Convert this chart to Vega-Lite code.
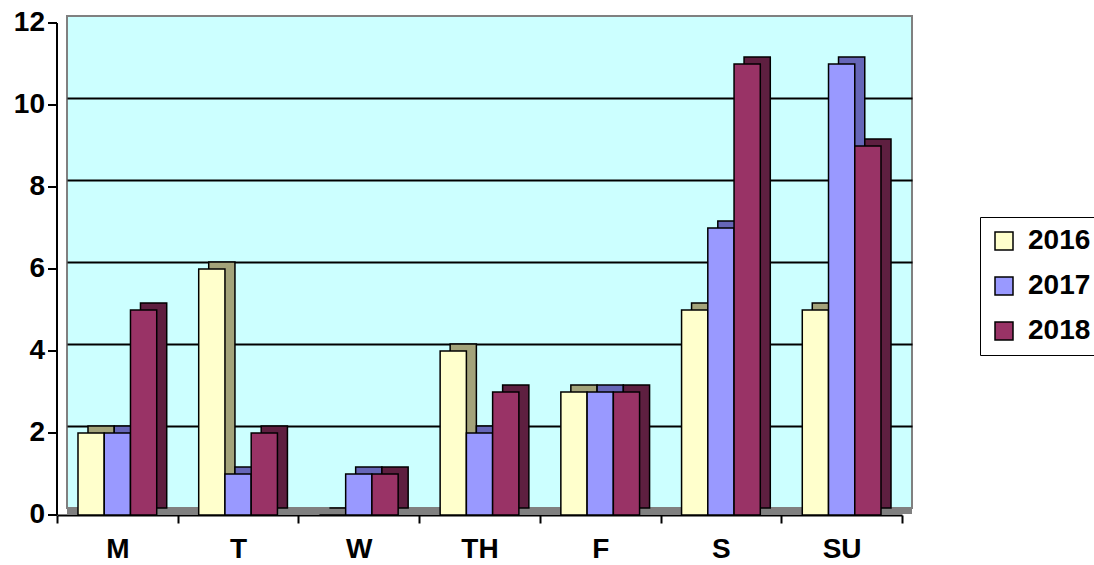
{
  "$schema": "https://vega.github.io/schema/vega-lite/v6.json",
  "width": 845,
  "height": 492,
  "autosize": "none",
  "padding": {"left": 67, "top": 16, "right": 182, "bottom": 57},
  "background": "white",
  "config": {
    "view": {"fill": "#CCFFFF", "stroke": "#808080", "strokeWidth": 2},
    "font": "Liberation Sans"
  },
  "data": {
    "values": [
      {"day": "M", "year": "2016", "value": 2},
      {"day": "M", "year": "2017", "value": 2},
      {"day": "M", "year": "2018", "value": 5},
      {"day": "T", "year": "2016", "value": 6},
      {"day": "T", "year": "2017", "value": 1},
      {"day": "T", "year": "2018", "value": 2},
      {"day": "W", "year": "2016", "value": 0},
      {"day": "W", "year": "2017", "value": 1},
      {"day": "W", "year": "2018", "value": 1},
      {"day": "TH", "year": "2016", "value": 4},
      {"day": "TH", "year": "2017", "value": 2},
      {"day": "TH", "year": "2018", "value": 3},
      {"day": "F", "year": "2016", "value": 3},
      {"day": "F", "year": "2017", "value": 3},
      {"day": "F", "year": "2018", "value": 3},
      {"day": "S", "year": "2016", "value": 5},
      {"day": "S", "year": "2017", "value": 7},
      {"day": "S", "year": "2018", "value": 11},
      {"day": "SU", "year": "2016", "value": 5},
      {"day": "SU", "year": "2017", "value": 11},
      {"day": "SU", "year": "2018", "value": 9}
    ]
  },
  "resolve": {
    "axis": {"y": "independent"},
    "scale": {"x": "independent", "xOffset": "independent"}
  },
  "layer": [
    {
      "mark": {"type": "rule", "color": "#808080", "strokeWidth": 6, "yOffset": 3},
      "encoding": {
        "y": {
          "datum": 0,
          "type": "quantitative",
          "scale": {"domain": [0, 12], "nice": false, "zero": true},
          "axis": {
            "orient": "left",
            "values": [2, 4, 6, 8, 10],
            "grid": true,
            "gridColor": "black",
            "gridWidth": 2,
            "gridOpacity": 1,
            "labels": false,
            "ticks": false,
            "domain": false,
            "title": null
          }
        }
      }
    },
    {
      "mark": {"type": "bar", "stroke": "black", "strokeWidth": 1.5},
      "encoding": {
        "x": {
          "field": "day",
          "type": "nominal",
          "sort": ["M", "T", "W", "TH", "F", "S", "SU"],
          "scale": {"paddingInner": 0, "paddingOuter": 0, "range": [0, 845]},
          "axis": null
        },
        "xOffset": {"field": "year", "type": "nominal", "scale": {"paddingInner": 0, "paddingOuter": 0.8}},
        "y": {"field": "value", "type": "quantitative", "scale": {"domain": [0, 12], "nice": false}, "axis": null},
        "fill": {
          "field": "year",
          "type": "nominal",
          "scale": {"range": ["#A3A37A", "#6666B8", "#5E1F40"]},
          "legend": null
        }
      }
    },
    {
      "mark": {"type": "bar", "stroke": "black", "strokeWidth": 1.5, "yOffset": 7, "fillOpacity": 1},
      "encoding": {
        "x": {
          "field": "day",
          "type": "nominal",
          "sort": ["M", "T", "W", "TH", "F", "S", "SU"],
          "scale": {"paddingInner": 0, "paddingOuter": 0, "range": [-10, 835]},
          "axis": {
            "orient": "bottom",
            "title": null,
            "labelAngle": 0,
            "labelFont": "Liberation Sans",
            "labelFontWeight": "bold",
            "labelFontSize": 28,
            "labelColor": "black",
            "labelPadding": 12,
            "tickBand": "extent",
            "tickColor": "black",
            "tickSize": 8,
            "tickWidth": 2,
            "domainColor": "black",
            "domainWidth": 2,
            "offset": 7
          }
        },
        "xOffset": {"field": "year", "type": "nominal", "scale": {"paddingInner": 0, "paddingOuter": 0.8}},
        "y": {
          "field": "value",
          "type": "quantitative",
          "scale": {"domain": [0, 12], "nice": false},
          "axis": {
            "orient": "left",
            "values": [0, 2, 4, 6, 8, 10, 12],
            "grid": false,
            "title": null,
            "labelFont": "Liberation Sans",
            "labelFontWeight": "bold",
            "labelFontSize": 28,
            "labelColor": "black",
            "labelPadding": 3,
            "tickColor": "black",
            "tickSize": 9,
            "tickWidth": 2,
            "domainColor": "black",
            "domainWidth": 2,
            "offset": 17,
            "translate": 7
          }
        },
        "color": {
          "field": "year",
          "type": "nominal",
          "scale": {"range": ["#FFFFCC", "#9999FF", "#993366"]},
          "legend": {
            "title": null,
            "orient": "none",
            "legendX": 913,
            "legendY": 201,
            "padding": 10,
            "strokeColor": "black",
            "fillColor": "white",
            "symbolType": "square",
            "symbolSize": 324,
            "symbolStrokeColor": "black",
            "symbolStrokeWidth": 1.5,
            "symbolOpacity": 1,
            "labelFont": "Liberation Sans",
            "labelFontWeight": "bold",
            "labelFontSize": 28,
            "labelColor": "black",
            "labelOffset": 10,
            "rowPadding": 17
          }
        }
      }
    }
  ]
}
